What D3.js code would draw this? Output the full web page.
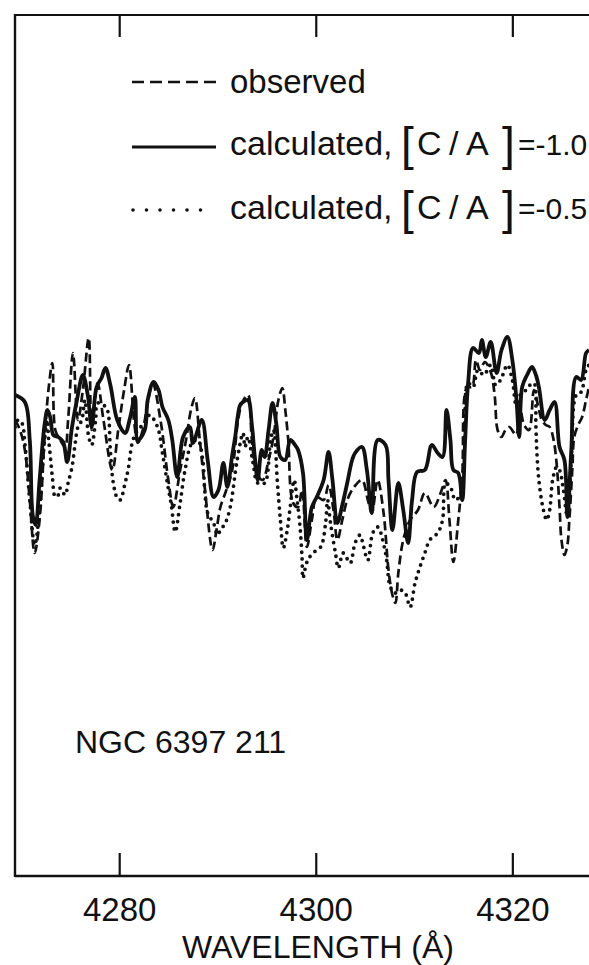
<!DOCTYPE html>
<html>
<head>
<meta charset="utf-8">
<script src="https://cdn.jsdelivr.net/npm/d3@7"></script>
<style>
  html, body { margin: 0; padding: 0; background: #fff; }
  svg { display: block; }
  text { font-family: "Liberation Sans", Arial, sans-serif; fill: #111; }
</style>
</head>
<body>
<div id="chart"></div>
<script>
// Wavelength ticks (Å)
const tickValues = [4280, 4300, 4320];
const tickLabels = ["4280", "4300", "4320"];

// Observed spectrum: [wavelength (Å), relative flux]
const observed = [
  [4269.4,0.920],[4269.9,0.900],[4270.4,0.860],[4270.9,0.760],[4271.4,0.654],[4271.9,0.720],
  [4272.4,0.880],[4272.8,0.980],[4273.2,1.034],[4273.5,0.900],[4274.0,0.880],[4274.5,0.866],
  [4274.8,0.920],[4275.3,1.054],[4275.8,0.920],[4276.3,0.980],[4276.9,1.084],[4277.2,0.900],
  [4277.8,0.994],[4278.4,0.920],[4279.3,0.820],[4279.9,0.900],[4280.5,0.980],[4281.0,1.030],
  [4281.5,0.920],[4281.9,0.874],[4282.4,0.900],[4282.9,0.954],[4283.4,0.994],[4284.2,0.920],
  [4285.0,0.800],[4285.5,0.746],[4286.2,0.820],[4286.8,0.880],[4287.3,0.940],[4287.7,0.964],
  [4288.2,0.880],[4288.7,0.786],[4289.5,0.660],[4289.9,0.700],[4290.3,0.746],[4290.9,0.780],
  [4291.5,0.820],[4292.1,0.920],[4292.5,0.954],[4293.1,0.970],[4293.5,0.880],[4294.0,0.814],
  [4294.6,0.800],[4295.2,0.840],[4295.7,0.886],[4296.2,0.960],[4296.6,0.984],[4296.9,0.940],
  [4297.2,0.880],[4297.7,0.754],[4298.2,0.746],[4298.6,0.780],[4299.1,0.666],[4299.6,0.720],
  [4300.1,0.766],[4300.8,0.760],[4301.3,0.790],[4301.8,0.740],[4302.2,0.680],[4302.7,0.720],
  [4303.2,0.760],[4303.9,0.786],[4304.7,0.800],[4305.3,0.760],[4305.7,0.734],[4306.3,0.800],
  [4306.9,0.734],[4307.4,0.620],[4307.8,0.570],[4308.1,0.554],[4308.4,0.614],[4308.9,0.680],
  [4309.6,0.720],[4310.4,0.740],[4311.1,0.774],[4312.0,0.746],[4312.7,0.774],[4313.2,0.800],
  [4313.6,0.720],[4314.0,0.636],[4314.5,0.720],[4314.9,0.806],[4315.4,0.986],[4315.9,0.986],
  [4316.3,1.040],[4316.7,1.020],[4317.2,1.036],[4317.8,1.016],[4318.2,0.970],[4318.5,0.900],
  [4318.9,0.886],[4319.3,0.900],[4319.7,0.906],[4320.1,0.896],[4320.4,0.890],[4320.8,0.940],
  [4321.2,0.910],[4321.7,0.900],[4322.2,0.980],[4322.6,0.950],[4323.0,0.920],[4323.4,0.910],
  [4323.8,0.906],[4324.2,0.880],[4324.5,0.834],[4324.8,0.746],[4325.0,0.680],[4325.3,0.650],
  [4325.6,0.670],[4325.8,0.720],[4326.1,0.820],[4326.3,0.886],[4326.7,0.910],[4327.1,0.926],
  [4327.5,0.960],[4327.8,0.986]
];

// Synthetic spectrum, [C/A] = -1.0
const calcMinus10 = [
  [4269.4,0.970],[4270.4,0.956],[4270.9,0.880],[4271.2,0.730],[4271.5,0.710],[4271.9,0.800],
  [4272.4,0.910],[4272.7,0.940],[4273.0,0.924],[4273.3,0.890],[4273.8,0.886],[4274.3,0.876],
  [4274.7,0.836],[4275.2,0.906],[4275.7,0.960],[4276.3,1.010],[4276.8,0.970],[4277.2,0.906],
  [4277.7,0.986],[4278.2,1.004],[4278.6,1.024],[4279.1,0.990],[4279.8,0.920],[4280.6,0.894],
  [4281.1,0.924],[4281.6,0.966],[4281.9,0.880],[4282.6,0.900],[4282.9,0.960],[4283.5,0.996],
  [4284.0,0.980],[4284.4,0.946],[4285.0,0.920],[4285.4,0.880],[4285.9,0.806],[4286.5,0.886],
  [4287.2,0.906],[4287.5,0.874],[4288.4,0.920],[4289.0,0.840],[4289.6,0.766],[4290.1,0.780],
  [4290.6,0.834],[4291.0,0.786],[4291.5,0.850],[4291.8,0.886],[4292.3,0.950],[4292.6,0.956],
  [4293.1,0.960],[4293.5,0.910],[4293.8,0.846],[4294.1,0.800],[4294.5,0.860],[4294.8,0.846],
  [4295.2,0.900],[4295.6,0.954],[4296.0,0.910],[4296.4,0.846],[4296.9,0.840],[4297.4,0.880],
  [4297.9,0.870],[4298.2,0.860],[4298.7,0.814],[4299.1,0.680],[4299.6,0.746],[4300.1,0.766],
  [4300.8,0.800],[4301.3,0.856],[4301.7,0.800],[4302.2,0.714],[4302.7,0.750],[4303.2,0.794],
  [4303.7,0.840],[4304.0,0.854],[4304.7,0.866],[4305.2,0.820],[4305.7,0.734],[4306.3,0.880],
  [4307.1,0.870],[4307.4,0.800],[4307.8,0.700],[4308.4,0.794],[4308.9,0.740],[4309.4,0.674],
  [4309.8,0.760],[4310.3,0.816],[4311.1,0.820],[4311.8,0.870],[4312.4,0.854],[4312.9,0.846],
  [4313.3,0.940],[4313.7,0.880],[4314.0,0.820],[4314.5,0.814],[4314.9,0.760],[4315.2,0.880],
  [4315.5,0.994],[4316.0,1.064],[4316.6,1.054],[4316.9,1.080],[4317.3,1.046],[4317.8,1.076],
  [4318.4,1.014],[4318.9,1.060],[4319.5,1.086],[4320.0,1.040],[4320.4,0.966],[4320.7,0.886],
  [4321.0,0.986],[4321.5,1.010],[4322.0,1.026],[4322.4,1.010],[4322.7,0.986],[4323.3,0.920],
  [4323.8,0.940],[4324.3,0.956],[4324.8,0.866],[4325.3,0.840],[4325.6,0.726],[4326.0,0.860],
  [4326.5,1.006],[4327.0,1.000],[4327.5,1.054],[4327.8,1.060]
];

// Synthetic spectrum, [C/A] = -0.5
const calcMinus05 = [
  [4269.4,0.906],[4269.7,0.920],[4270.1,0.914],[4270.4,0.874],[4270.9,0.760],[4271.4,0.670],
  [4271.9,0.740],[4272.4,0.880],[4272.7,0.920],[4272.8,0.886],[4273.0,0.846],[4273.2,0.806],
  [4273.5,0.766],[4273.8,0.770],[4274.0,0.784],[4274.5,0.770],[4274.8,0.794],[4275.2,0.826],
  [4275.5,0.870],[4275.8,0.906],[4276.2,0.920],[4276.5,0.960],[4276.9,0.886],[4277.2,0.870],
  [4277.6,0.920],[4277.8,0.954],[4278.4,0.950],[4278.8,0.940],[4279.1,0.860],[4279.4,0.794],
  [4279.8,0.764],[4280.1,0.760],[4280.6,0.794],[4280.9,0.820],[4281.4,0.880],[4281.9,0.900],
  [4282.6,0.914],[4283.1,0.930],[4283.9,0.906],[4284.4,0.854],[4284.9,0.794],[4285.3,0.750],
  [4285.7,0.696],[4286.2,0.754],[4286.7,0.820],[4287.4,0.874],[4288.0,0.880],[4288.5,0.840],
  [4288.7,0.780],[4289.0,0.734],[4289.6,0.714],[4290.0,0.690],[4290.3,0.700],[4290.8,0.714],
  [4291.3,0.746],[4292.0,0.840],[4292.6,0.894],[4292.8,0.866],[4293.1,0.886],[4293.6,0.836],
  [4294.1,0.794],[4294.8,0.794],[4295.4,0.880],[4295.7,0.900],[4296.1,0.794],[4296.4,0.720],
  [4296.7,0.664],[4297.1,0.700],[4297.4,0.746],[4297.8,0.800],[4298.1,0.760],[4298.4,0.706],
  [4298.6,0.646],[4298.7,0.604],[4299.0,0.630],[4299.2,0.640],[4299.7,0.654],[4300.5,0.666],
  [4301.0,0.714],[4301.2,0.760],[4301.5,0.714],[4302.0,0.654],[4302.3,0.624],[4302.8,0.654],
  [4303.5,0.634],[4304.0,0.674],[4304.5,0.690],[4304.7,0.680],[4305.3,0.640],[4305.8,0.694],
  [4306.3,0.706],[4307.1,0.654],[4307.6,0.586],[4308.1,0.574],[4308.6,0.580],[4309.1,0.574],
  [4309.6,0.546],[4310.1,0.594],[4310.6,0.626],[4311.1,0.654],[4311.6,0.680],[4312.4,0.694],
  [4312.9,0.720],[4313.2,0.794],[4313.7,0.786],[4314.2,0.760],[4314.7,0.770],[4315.1,0.860],
  [4315.5,0.994],[4316.0,0.986],[4316.5,1.020],[4317.1,1.010],[4317.8,1.030],[4318.3,0.990],
  [4318.8,1.000],[4319.5,1.030],[4320.0,1.000],[4320.4,0.950],[4320.8,0.970],[4321.4,0.980],
  [4321.8,0.990],[4322.2,0.994],[4322.4,0.906],[4322.5,0.854],[4322.7,0.800],[4323.1,0.746],
  [4323.5,0.720],[4323.8,0.740],[4324.1,0.800],[4324.5,0.826],[4324.8,0.820],[4325.2,0.780],
  [4325.6,0.726],[4326.0,0.840],[4326.5,0.970],[4327.0,0.976],[4327.5,1.020],[4327.8,1.030]
];

const W = 589, H = 965;
const plot = { left: 15, top: 15, bottom: 876, right: W };

const svg = d3.select("#chart").append("svg")
  .attr("width", W).attr("height", H)
  .attr("viewBox", `0 0 ${W} ${H}`);

const x = d3.scaleLinear().domain([4269.5, 4327.8]).range([16, 589]);
const y = d3.scaleLinear().domain([0.008, 1.73]).range([plot.bottom, plot.top]);

// Frame: bottom axis with labels, top axis with inward ticks, left edge
const bottomAxis = d3.axisBottom(x).tickValues(tickValues)
  .tickFormat((d, i) => tickLabels[i]).tickSizeInner(-23).tickSizeOuter(0).tickPadding(0);
const gb = svg.append("g").attr("transform", `translate(0,${plot.bottom})`).call(bottomAxis);
gb.select(".domain").attr("d", `M${plot.left},0H${plot.right}`)
  .attr("stroke", "#111").attr("stroke-width", 2.4);
gb.selectAll(".tick line").attr("stroke", "#111").attr("stroke-width", 2.2);
gb.selectAll(".tick text")
  .attr("y", 45).attr("dy", null)
  .attr("font-family", "'Liberation Sans', Arial, sans-serif")
  .attr("font-size", 33).attr("fill", "#111");

const topAxis = d3.axisTop(x).tickValues(tickValues)
  .tickFormat("").tickSizeInner(-22).tickSizeOuter(0);
const gt = svg.append("g").attr("transform", `translate(0,${plot.top})`).call(topAxis);
gt.select(".domain").attr("d", `M${plot.left},0H${plot.right}`)
  .attr("stroke", "#111").attr("stroke-width", 2.2);
gt.selectAll(".tick line").attr("stroke", "#111").attr("stroke-width", 2.2);

svg.append("line")
  .attr("x1", plot.left).attr("x2", plot.left)
  .attr("y1", plot.top - 1).attr("y2", plot.bottom + 1)
  .attr("stroke", "#111").attr("stroke-width", 2.4);

// Spectra
svg.append("clipPath").attr("id", "plotclip")
  .append("rect").attr("x", plot.left + 1).attr("y", plot.top)
  .attr("width", plot.right - plot.left).attr("height", plot.bottom - plot.top);

const line = d3.line()
  .x(d => x(d[0])).y(d => y(d[1]))
  .curve(d3.curveCatmullRom.alpha(0.5));

const gs = svg.append("g").attr("clip-path", "url(#plotclip)");

gs.append("path").datum(calcMinus05)
  .attr("d", line).attr("fill", "none")
  .attr("stroke", "#111").attr("stroke-width", 3.8)
  .attr("stroke-linecap", "round").attr("stroke-dasharray", "0 7");

gs.append("path").datum(observed)
  .attr("d", line).attr("fill", "none")
  .attr("stroke", "#111").attr("stroke-width", 2.7)
  .attr("stroke-dasharray", "9 4.5");

gs.append("path").datum(calcMinus10)
  .attr("d", line).attr("fill", "none")
  .attr("stroke", "#111").attr("stroke-width", 3.8)
  .attr("stroke-linejoin", "round");

// Legend
const lg = svg.append("g");
lg.append("line").attr("x1", 132).attr("x2", 216).attr("y1", 82).attr("y2", 82)
  .attr("stroke", "#111").attr("stroke-width", 2.6).attr("stroke-dasharray", "12 6");
lg.append("text").attr("x", 230).attr("y", 93).attr("font-size", 33).text("observed");

lg.append("line").attr("x1", 132).attr("x2", 216).attr("y1", 147).attr("y2", 147)
  .attr("stroke", "#111").attr("stroke-width", 3);
lg.append("line").attr("x1", 133).attr("x2", 214).attr("y1", 210).attr("y2", 210)
  .attr("stroke", "#111").attr("stroke-width", 3.6).attr("stroke-linecap", "round")
  .attr("stroke-dasharray", "0 13.5");

function calcLabel(baseline, value) {
  const g = lg.append("g");
  g.append("text").attr("x", 230).attr("y", baseline).attr("font-size", 34).text("calculated,");
  g.append("text").attr("x", 401).attr("y", baseline + 5).attr("font-size", 46).text("[");
  g.append("text").attr("x", 417).attr("y", baseline).attr("font-size", 34).text("C");
  g.append("text").attr("x", 449).attr("y", baseline).attr("font-size", 34).text("/");
  g.append("text").attr("x", 466).attr("y", baseline).attr("font-size", 34).text("A");
  g.append("text").attr("x", 502).attr("y", baseline + 5).attr("font-size", 46).text("]");
  g.append("text").attr("x", 518).attr("y", baseline).attr("font-size", 30).text("=" + value);
}
calcLabel(155, "-1.0");
calcLabel(219, "-0.5");

// Object label
svg.append("text").attr("x", 75).attr("y", 753).attr("font-size", 32).text("NGC 6397 211");

// Axis title
svg.append("text").attr("x", 318).attr("y", 958).attr("text-anchor", "middle")
  .attr("font-size", 32).text("WAVELENGTH (Å)");
</script>
</body>
</html>
